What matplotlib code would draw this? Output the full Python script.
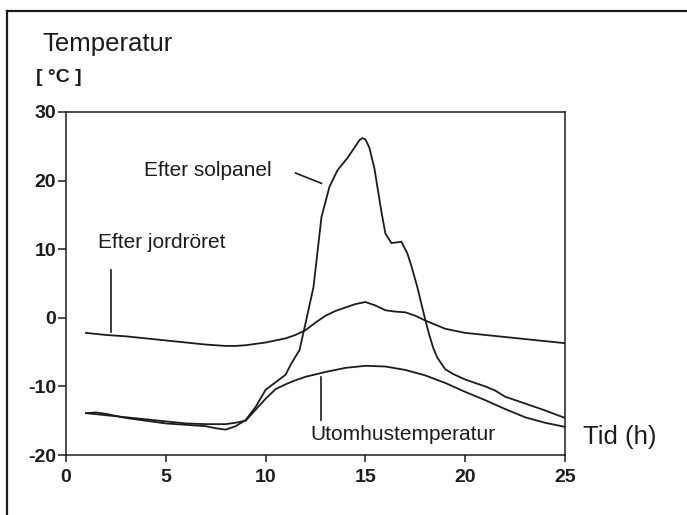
import matplotlib
matplotlib.use("Agg")
import matplotlib.pyplot as plt
from matplotlib.lines import Line2D

plt.rcParams['font.family'] = ['Liberation Sans', 'DejaVu Sans']

# time (h) and temperatures (C)
tid_ute = [1, 2, 3, 4, 5, 6, 7, 8, 8.5, 9, 9.5, 10, 10.5, 11, 11.5, 12, 13, 14, 15, 16,
           17, 18, 19, 20, 21, 22, 23, 24, 25]
utomhus = [-13.9, -14.2, -14.5, -14.8, -15.1, -15.4, -15.5, -15.5, -15.3, -15.0, -13.4,
           -11.8, -10.4, -9.7, -9.1, -8.6, -7.9, -7.3, -7.0, -7.1, -7.6, -8.4, -9.5,
           -10.8, -12.0, -13.3, -14.5, -15.3, -15.9]

tid_sol = [1, 1.5, 2, 3, 4, 5, 6, 7, 7.5, 8, 8.5, 9, 9.5, 10, 10.5, 11, 11.3, 11.7, 12,
           12.4, 12.8, 13.2, 13.6, 14.1, 14.5, 14.7, 14.85, 15.0, 15.2, 15.45, 15.8, 16.0,
           16.3, 16.6, 16.8, 17.1, 17.3, 17.6, 17.8, 18.0, 18.2, 18.4, 18.6, 19.0, 19.4,
           20, 21, 21.5, 22, 23, 24, 25]
solpanel = [-13.9, -13.8, -14.0, -14.6, -15.0, -15.4, -15.6, -15.8, -16.1, -16.3, -15.8,
            -14.9, -13.0, -10.5, -9.4, -8.3, -6.6, -4.7, -0.8, 4.5, 14.7, 19.1, 21.5,
            23.3, 25.0, 25.9, 26.2, 26.0, 24.8, 21.8, 15.5, 12.3, 10.9, 11.0, 11.1, 9.4,
            7.6, 4.5, 2.1, -0.3, -2.5, -4.4, -5.8, -7.5, -8.2, -9.0, -10.0, -10.6, -11.5,
            -12.5, -13.5, -14.6]

tid_jord = [1, 2, 3, 4, 5, 6, 7, 8, 8.5, 9, 10, 10.5, 11, 11.5, 12, 12.5, 13, 13.5, 14,
            14.5, 15, 15.5, 16, 16.5, 17, 17.5, 18, 19, 20, 21, 22, 23, 24, 25]
jordror = [-2.2, -2.5, -2.7, -3.0, -3.3, -3.6, -3.9, -4.1, -4.1, -4.0, -3.6, -3.3, -3.0,
           -2.5, -1.8, -0.7, 0.3, 1.0, 1.5, 2.0, 2.3, 1.8, 1.1, 0.9, 0.8, 0.3, -0.4,
           -1.6, -2.2, -2.5, -2.8, -3.1, -3.4, -3.7]

xticks = [0, 5, 10, 15, 20, 25]
yticks = [-20, -10, 0, 10, 20, 30]

ink = '#1c1c1c'

fig = plt.figure(figsize=(6.87, 5.15), dpi=100)
ax = fig.add_axes([66 / 687, 1 - 455 / 515, 499 / 687, 343 / 515])

ax.plot(tid_ute, utomhus, color=ink, lw=1.3)
ax.plot(tid_sol, solpanel, color=ink, lw=1.3)
ax.plot(tid_jord, jordror, color=ink, lw=1.3)

ax.set_xlim(0, 25)
ax.set_ylim(-20, 30)
ax.set_xticks(xticks)
ax.set_yticks(yticks)
ax.set_xticklabels([str(v) for v in xticks], fontsize=14, fontweight='bold', color=ink)
ax.set_yticklabels([str(v) for v in yticks], fontsize=14, fontweight='bold', color=ink)
ax.tick_params(axis='x', direction='out', length=5, width=1.1, pad=5, colors=ink)
ax.tick_params(axis='y', direction='out', length=6, width=1.1, pad=1, colors=ink)
for s in ax.spines.values():
    s.set_linewidth(1.1)
    s.set_color(ink)

# curve labels with leader lines
ax.text(3.9, 21.5, 'Efter solpanel', fontsize=15, ha='left', va='center', color=ink)
ax.plot([11.5, 12.8], [21.1, 19.6], color=ink, lw=1.2)
ax.text(1.6, 11.0, 'Efter jordröret', fontsize=15, ha='left', va='center', color=ink)
ax.plot([2.24, 2.24], [7.0, -2.1], color=ink, lw=1.2)
ax.text(12.25, -17.0, 'Utomhustemperatur', fontsize=15, ha='left', va='center', color=ink)
ax.plot([12.8, 12.8], [-8.6, -14.9], color=ink, lw=1.2)

fig.text(42 / 687, 1 - 43.5 / 515, 'Temperatur', fontsize=18.5, ha='left', va='center',
         color=ink)
fig.text(36 / 687, 1 - 78 / 515, '[ °C ]', fontsize=14, fontweight='bold', ha='left',
         va='center', color=ink)
fig.text(583 / 687, 1 - 437 / 515, 'Tid (h)', fontsize=18.5, ha='left', va='center',
         color=ink)

# frame around the figure (left and top edges visible)
fig.add_artist(Line2D([7 / 687, 7 / 687], [-0.01, 1 - 11 / 515], transform=fig.transFigure,
                      color=ink, lw=1.6))
fig.add_artist(Line2D([7 / 687, 1.01], [1 - 11 / 515, 1 - 11 / 515], transform=fig.transFigure,
                      color=ink, lw=1.6))

fig.savefig('out.png', dpi=100)
